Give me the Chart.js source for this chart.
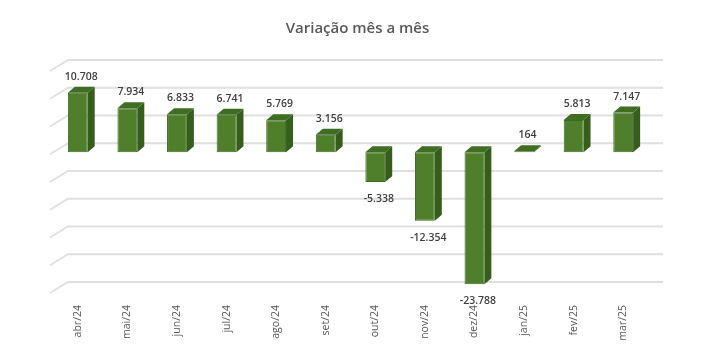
<!DOCTYPE html>
<html>
<head>
<meta charset="utf-8">
<script src="https://cdn.jsdelivr.net/npm/chart.js@4/dist/chart.umd.min.js"></script>
<style>
html,body{margin:0;padding:0;background:#fff;}
#wrap{width:715px;height:355px;position:relative;}
</style>
</head>
<body>
<div id="wrap"><canvas id="c" width="715" height="355"></canvas></div>
<script>
const categories = ["abr/24","mai/24","jun/24","jul/24","ago/24","set/24","out/24","nov/24","dez/24","jan/25","fev/25","mar/25"];
const values = [10708, 7934, 6833, 6741, 5769, 3156, -5338, -12354, -23788, 164, 5813, 7147];
const yMin = -25000, yMax = 15000, yStep = 5000;
const titleText = "Variação mês a mês";

function fmt(v){
  const s = Math.abs(v).toString().replace(/\B(?=(\d{3})+(?!\d))/g, ".");
  return (v < 0 ? "-" : "") + s;
}

const DEPTH_X = 7, DEPTH_Y = 6;      // bar depth
const WALL_X = 15, WALL_Y = 9;       // back wall offset

const wallPlugin = {
  id: 'wall',
  beforeDatasetsDraw(chart){
    const ctx = chart.ctx, ys = chart.scales.y, a = chart.chartArea;
    ctx.save();
    ctx.strokeStyle = '#e0e0e0';
    ctx.lineWidth = 1.8;
    for (let v = yMin; v <= yMax; v += yStep){
      const y = ys.getPixelForValue(v);
      ctx.beginPath();
      ctx.moveTo(a.left - 3, y + 2);
      ctx.lineTo(a.left + WALL_X, y - WALL_Y);
      ctx.lineTo(a.right + WALL_X, y - WALL_Y);
      ctx.stroke();
    }
    ctx.restore();
  }
};

const bar3dPlugin = {
  id: 'bar3d',
  afterDatasetsDraw(chart){
    const ctx = chart.ctx;
    const meta = chart.getDatasetMeta(0);
    ctx.save();
    meta.data.forEach((el, i) => {
      const p = el.getProps(['x','y','base','width'], true);
      const l = p.x - p.width/2, r = p.x + p.width/2;
      const top = Math.min(p.y, p.base), bot = Math.max(p.y, p.base);
      // side face
      ctx.fillStyle = '#355e1b';
      ctx.beginPath();
      ctx.moveTo(r, top); ctx.lineTo(r + DEPTH_X, top - DEPTH_Y);
      ctx.lineTo(r + DEPTH_X, bot - DEPTH_Y); ctx.lineTo(r, bot);
      ctx.closePath(); ctx.fill();
      // top face
      ctx.fillStyle = '#3f6d22';
      ctx.beginPath();
      ctx.moveTo(l, top); ctx.lineTo(l + DEPTH_X, top - DEPTH_Y);
      ctx.lineTo(r + DEPTH_X, top - DEPTH_Y); ctx.lineTo(r, top);
      ctx.closePath(); ctx.fill();
      // labels
      const v = values[i];
      ctx.fillStyle = '#404040';
      ctx.font = '600 10.5px "Open Sans", "Liberation Sans", sans-serif';
      ctx.textAlign = 'center';
      ctx.textBaseline = 'middle';
      const ly = v >= 0 ? p.y - 16 : p.y + 17;
      ctx.fillText(fmt(v), p.x + DEPTH_X/2, ly);
    });
    ctx.restore();
  }
};

new Chart(document.getElementById('c'), {
  type: 'bar',
  data: {
    labels: categories,
    datasets: [{
      data: values,
      backgroundColor: '#4f7f2b',
      borderColor: '#3e6a20',
      borderWidth: 1,
      borderSkipped: false,
      barPercentage: 0.4,
      categoryPercentage: 1.0
    }]
  },
  options: {
    responsive: false,
    animation: false,
    layout: { padding: 0 },
    plugins: {
      legend: { display: false },
      tooltip: { enabled: false },
      title: {
        display: true,
        text: titleText,
        color: '#595959',
        font: { family: '"Open Sans", "Liberation Sans", sans-serif', size: 15, weight: '600' },
        padding: { top: 20, bottom: 31 }
      }
    },
    scales: {
      x: {
        offset: true,
        grid: { display: false, drawTicks: false },
        border: { display: false },
        ticks: {
          color: '#595959',
          font: { family: '"Open Sans", "Liberation Sans", sans-serif', size: 10.5 },
          minRotation: 90, maxRotation: 90,
          padding: 14,
          autoSkip: false
        },
        afterFit(s){ s.height = 64; }
      },
      y: {
        min: yMin, max: yMax,
        ticks: { display: false, stepSize: yStep },
        grid: { display: false, drawTicks: false },
        border: { display: false },
        afterFit(s){ s.width = 53; }
      },
      y2: {
        position: 'right',
        min: yMin, max: yMax,
        ticks: { display: false },
        grid: { display: false, drawTicks: false },
        border: { display: false },
        afterFit(s){ s.width = 67; }
      }
    }
  },
  plugins: [wallPlugin, bar3dPlugin]
});
</script>
</body>
</html>
